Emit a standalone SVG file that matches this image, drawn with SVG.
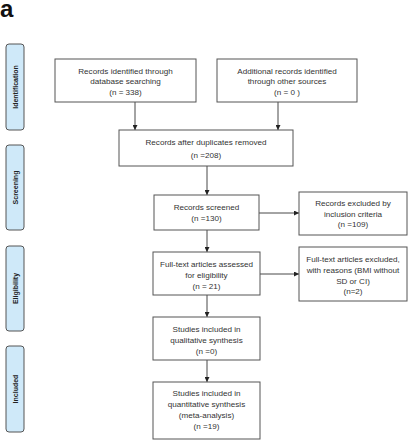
<svg xmlns="http://www.w3.org/2000/svg" width="409" height="440" viewBox="0 0 409 440">
<defs>
<marker id="ah" viewBox="0 0 10 10" refX="10" refY="5" markerWidth="5" markerHeight="5" orient="auto" markerUnits="userSpaceOnUse">
<path d="M0,0 L10,5 L0,10 z" fill="#222"/>
</marker>
<style>
.box{fill:#fff;stroke:#555;stroke-width:1}
.side{fill:#cfe9f9;stroke:#555;stroke-width:1}
.t{font-family:"Liberation Sans",Arial,sans-serif;font-size:8.1px;fill:#333;text-anchor:middle}
.s{font-family:"Liberation Sans",Arial,sans-serif;font-size:7px;font-weight:bold;fill:#222;text-anchor:middle}
.c{stroke:#333;stroke-width:0.9;fill:none;marker-end:url(#ah)}
</style>
</defs>
<rect width="409" height="440" fill="#fff"/>
<text x="0" y="17" font-family="Liberation Sans,Arial,sans-serif" font-size="24" font-weight="bold" fill="#111">a</text>

<g id="side-identification"><rect class="side" x="6" y="44" width="18" height="86" rx="3"/><text class="s" transform="translate(17.5,87) rotate(-90)">Identification</text></g>
<g id="side-screening"><rect class="side" x="6" y="145" width="18" height="85" rx="3"/><text class="s" transform="translate(17.5,187.5) rotate(-90)">Screening</text></g>
<g id="side-eligibility"><rect class="side" x="6" y="246" width="18" height="85" rx="3"/><text class="s" transform="translate(17.5,288.5) rotate(-90)">Eligibility</text></g>
<g id="side-included"><rect class="side" x="6" y="346" width="18" height="86" rx="3"/><text class="s" transform="translate(17.5,389) rotate(-90)">Included</text></g>

<g id="connectors">
<path class="c" d="M135,102 V130"/>
<path class="c" d="M278,102 V130"/>
<path class="c" d="M207,166 V195"/>
<path class="c" d="M259,213 H299"/>
<path class="c" d="M207,230 V252"/>
<path class="c" d="M260,274 H299"/>
<path class="c" d="M207,295 V317"/>
<path class="c" d="M207,360 V382"/>
</g>

<g id="n1"><rect class="box" x="55" y="59" width="141" height="43"/>
<text class="t" x="125.5" y="73.5">Records identified through</text>
<text class="t" x="125.5" y="84">database searching</text>
<text class="t" x="125.5" y="95">(n = 338)</text></g>

<g id="n2"><rect class="box" x="217" y="59" width="140" height="43"/>
<text class="t" x="287" y="73.5">Additional records identified</text>
<text class="t" x="287" y="84">through other sources</text>
<text class="t" x="287" y="95">(n = 0 )</text></g>

<g id="n3"><rect class="box" x="119" y="130" width="174" height="36"/>
<text class="t" x="206" y="145">Records after duplicates removed</text>
<text class="t" x="206" y="158">(n =208)</text></g>

<g id="n4"><rect class="box" x="154" y="195" width="105" height="35"/>
<text class="t" x="206.5" y="209.5">Records screened</text>
<text class="t" x="206.5" y="221">(n =130)</text></g>

<g id="n5"><rect class="box" x="299" y="192" width="108" height="43"/>
<text class="t" x="353" y="205.5">Records excluded by</text>
<text class="t" x="353" y="216.5">inclusion criteria</text>
<text class="t" x="353" y="227">(n =109)</text></g>

<g id="n6"><rect class="box" x="153" y="252" width="107" height="43"/>
<text class="t" x="206.5" y="267">Full-text articles assessed</text>
<text class="t" x="206.5" y="278">for eligibility</text>
<text class="t" x="206.5" y="288.5">(n = 21)</text></g>

<g id="n7"><rect class="box" x="299" y="247" width="108" height="54"/>
<text class="t" x="353" y="262">Full-text articles excluded,</text>
<text class="t" x="353" y="273">with reasons (BMI without</text>
<text class="t" x="353" y="283.5">SD or CI)</text>
<text class="t" x="353" y="294">(n=2)</text></g>

<g id="n8"><rect class="box" x="153" y="317" width="107" height="43"/>
<text class="t" x="206.5" y="332">Studies included in</text>
<text class="t" x="206.5" y="343">qualitative synthesis</text>
<text class="t" x="206.5" y="353.5">(n =0)</text></g>

<g id="n9"><rect class="box" x="153" y="382" width="107" height="57"/>
<text class="t" x="206.5" y="396">Studies included in</text>
<text class="t" x="206.5" y="407">quantitative synthesis</text>
<text class="t" x="206.5" y="418">(meta-analysis)</text>
<text class="t" x="206.5" y="428.5">(n =19)</text></g>
</svg>
